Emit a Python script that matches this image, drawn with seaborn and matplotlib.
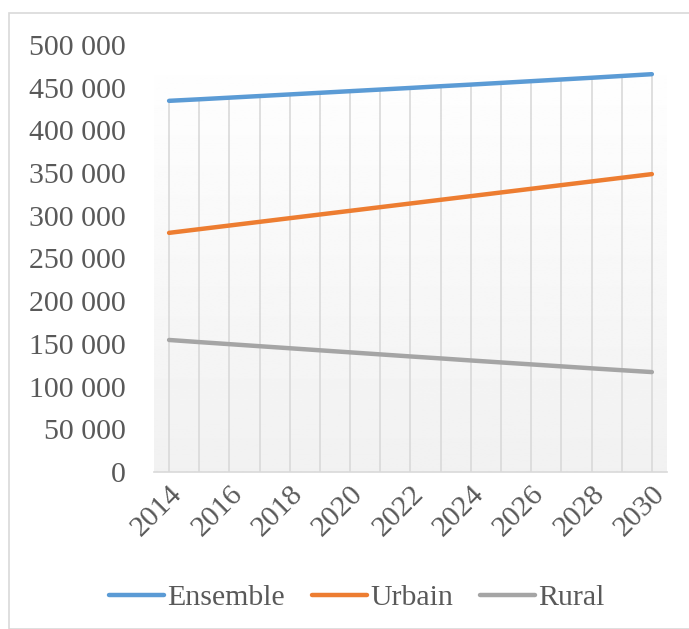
import numpy as np
import pandas as pd
import seaborn as sns
import matplotlib.pyplot as plt
from matplotlib.patches import Rectangle
from matplotlib.ticker import FuncFormatter

years = list(range(2014, 2031))
rural = [154600, 152100, 149700, 147300, 144900, 142500, 140100, 137700, 135300,
         133000, 130600, 128300, 126000, 123700, 121400, 119200, 117000]
urbain = [280000, 284300, 288600, 292900, 297200, 301500, 305800, 310100, 314400,
          318700, 323000, 327300, 331600, 335900, 340200, 344500, 348800]
ensemble = [u + r for u, r in zip(urbain, rural)]
series = ["Ensemble", "Urbain", "Rural"]
colors = ["#5B9BD5", "#ED7D31", "#A5A5A5"]

df = pd.DataFrame({
    "year": years * 3,
    "value": ensemble + urbain + rural,
    "serie": [s for s in series for _ in years],
})

sns.set_style("white")
plt.rcParams["font.family"] = ["Liberation Serif", "DejaVu Serif"]

fig = plt.figure(figsize=(6.89, 6.29), dpi=100)
ax = fig.add_axes([0.2235, 0.2496, 0.968 - 0.2235, 0.9285 - 0.2496])

# light gradient background like the original
grad = np.linspace(1.0, 0.945, 256).reshape(-1, 1)
ax.imshow(grad, extent=[0, 1, 0, 1], transform=ax.transAxes, cmap="gray",
          vmin=0, vmax=1, aspect="auto", zorder=0)

# drop lines from the top series down to the axis
ax.vlines(years, 0, ensemble, color="#d9d9d9", linewidth=1.2, zorder=1)

sns.lineplot(data=df, x="year", y="value", hue="serie", hue_order=series,
             palette=colors, linewidth=3.2, ax=ax, zorder=3,
             solid_capstyle="round")

ax.set_xlim(2013.5, 2030.5)
ax.set_ylim(0, 500000)
ax.set_yticks(range(0, 500001, 50000))
ax.yaxis.set_major_formatter(FuncFormatter(lambda v, p: f"{int(v):,}".replace(",", " ")))
ax.set_xticks(years)
ax.set_xticklabels([str(y) if (y - 2014) % 2 == 0 else "" for y in years],
                   rotation=45, ha="right", rotation_mode="anchor")
ax.tick_params(axis="x", labelsize=21.5, colors="#595959", length=0, pad=6)
ax.tick_params(axis="y", labelsize=21.5, colors="#595959", length=0, pad=20)
ax.grid(False)
ax.set_xlabel("")
ax.set_ylabel("")
for side in ["top", "right", "left"]:
    ax.spines[side].set_visible(False)
ax.spines["bottom"].set_color("#d9d9d9")
ax.spines["bottom"].set_linewidth(1.2)

ax.legend(loc="center", bbox_to_anchor=(0.518, 1 - 598 / 629), bbox_transform=fig.transFigure,
          ncol=3, frameon=False, fontsize=21.5, handlelength=1.85, columnspacing=0.9,
          handletextpad=0.1, labelcolor="#595959")

fig.patches.append(Rectangle((9 / 689, 0), 1, 1 - 13 / 629, transform=fig.transFigure,
                             fill=False, edgecolor="#d9d9d9", linewidth=1.2))

fig.savefig("out.png", dpi=100)
